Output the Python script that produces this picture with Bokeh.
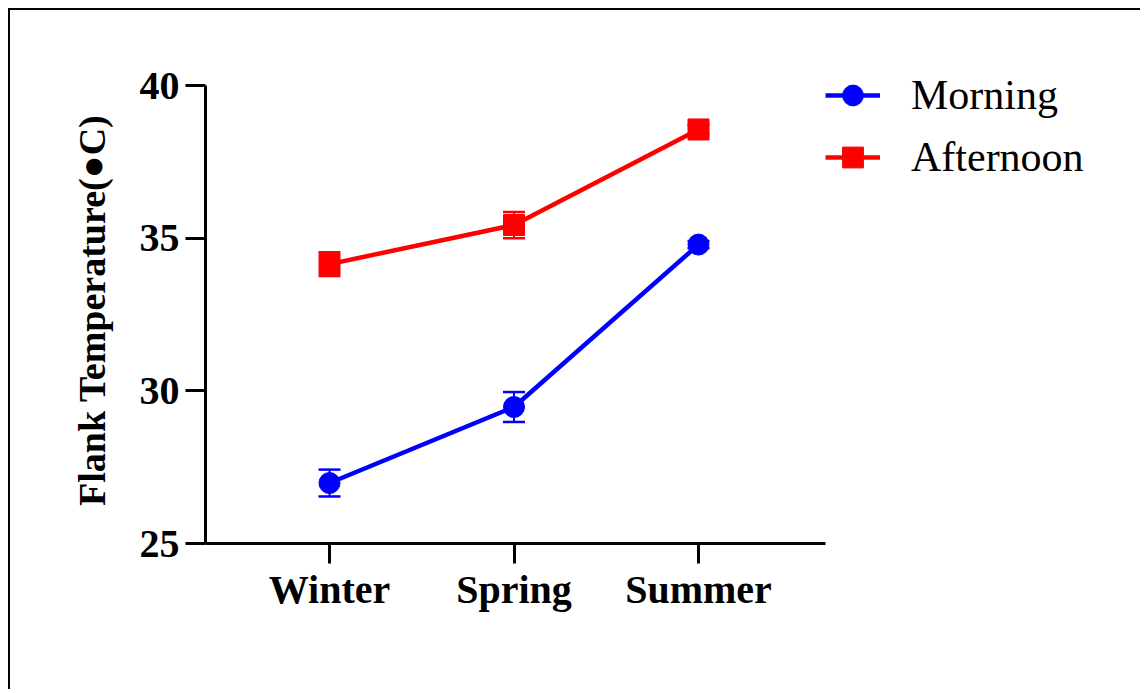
from bokeh.plotting import figure
from bokeh.models import (Range1d, FixedTicker, ColumnDataSource, Whisker, TeeHead,
                          Legend, LegendItem)
from bokeh.embed import file_html
from bokeh.resources import INLINE

seasons = ["Winter", "Spring", "Summer"]
x_pos = [0, 1, 2]
morning = [26.98, 29.47, 34.79]
morning_err = [0.44, 0.49, 0.12]
afternoon = [34.15, 35.43, 38.56]
afternoon_err = [0.39, 0.43, 0.15]
y_ticks = [25, 30, 35, 40]

# page-pixel layout (canvas starts at page (10, 10) after CSS margin + border)
OX, OY = 10, 10
W, H = 1144 - OX - 2, 693 - OY - 2
AX_L, AX_R, AX_T, AX_B = 205, 825, 85, 543      # axis extents on the page
X0_PX, X2_PX = 329, 698                           # page x of first/last category
ppx = (X2_PX - X0_PX) / 2.0
ppy = (AX_B - AX_T) / 15.0
x_start = (AX_L - X0_PX) / ppx
x_end = (OX + W - X0_PX) / ppx
y_end = 25 + (AX_B - OY) / ppy

p = figure(width=W, height=H, output_backend="svg", toolbar_location=None,
           x_range=Range1d(x_start, x_end), y_range=Range1d(25, y_end),
           min_border_left=AX_L - OX, min_border_right=0, min_border_top=0,
           min_border_bottom=H - (AX_B - OY))
p.styles = {"margin-left": "8px", "margin-top": "8px",
            "border-left": "2px solid black", "border-top": "2px solid black"}
p.outline_line_color = None
p.grid.visible = False
p.background_fill_color = "white"
p.border_fill_color = "white"

FONT = "Liberation Serif"
for ax in (p.xaxis[0], p.yaxis[0]):
    ax.axis_line_width = 3
    ax.axis_line_color = "black"
    ax.major_tick_line_width = 3
    ax.major_tick_line_color = "black"
    ax.major_tick_out = 20
    ax.major_tick_in = 0
    ax.minor_tick_line_color = None
    ax.major_label_text_font = FONT
    ax.major_label_text_font_style = "bold"
    ax.major_label_text_font_size = "40px"
    ax.major_label_text_color = "black"

p.xaxis.ticker = FixedTicker(ticks=x_pos)
p.xaxis.bounds = (x_start, (AX_R - X0_PX) / ppx)
p.xaxis.major_label_overrides = {i: s for i, s in zip(x_pos, seasons)}
p.xaxis.major_label_standoff = 3
p.yaxis.ticker = FixedTicker(ticks=y_ticks)
p.yaxis.bounds = (25, 40)
p.yaxis.major_label_standoff = 6
# trailing no-break spaces re-centre the label on the axis span rather than the frame
p.yaxis.axis_label = "Flank Temperature(\u25cfC)" + "\u00a0" * 7
p.yaxis.axis_label_text_font = FONT
p.yaxis.axis_label_text_font_style = "bold"
p.yaxis.axis_label_text_font_size = "38px"
p.yaxis.axis_label_text_color = "black"
p.yaxis.axis_label_standoff = 24

src_m = ColumnDataSource(dict(x=x_pos, y=morning,
                              lo=[v - e for v, e in zip(morning, morning_err)],
                              hi=[v + e for v, e in zip(morning, morning_err)]))
src_a = ColumnDataSource(dict(x=x_pos, y=afternoon,
                              lo=[v - e for v, e in zip(afternoon, afternoon_err)],
                              hi=[v + e for v, e in zip(afternoon, afternoon_err)]))

for src, col in ((src_m, "#0000ff"), (src_a, "#ff0000")):
    w = Whisker(base="x", upper="hi", lower="lo", source=src, line_color=col, line_width=2,
                upper_head=TeeHead(size=22, line_color=col, line_width=2.5),
                lower_head=TeeHead(size=22, line_color=col, line_width=2.5))
    w.level = "glyph"
    p.add_layout(w)

lm = p.line("x", "y", source=src_m, line_color="#0000ff", line_width=4.5)
sm = p.scatter("x", "y", source=src_m, marker="circle", size=21,
               fill_color="#0000ff", line_color="#0000ff")
la = p.line("x", "y", source=src_a, line_color="#ff0000", line_width=4.5)
sa = p.scatter("x", "y", source=src_a, marker="square", size=21,
               fill_color="#ff0000", line_color="#ff0000")

GH = 52
legend = Legend(items=[LegendItem(label="Morning", renderers=[lm, sm]),
                       LegendItem(label="Afternoon", renderers=[la, sa])],
                orientation="vertical")
legend.margin = 0
legend.padding = 0
legend.border_line_color = None
legend.background_fill_alpha = 0
legend.glyph_width = 55
legend.glyph_height = GH
legend.label_height = GH
legend.spacing = 62 - GH
legend.label_standoff = 31
legend.label_text_font = FONT
legend.label_text_font_size = "42px"
legend.label_text_color = "black"
leg_top = 95 - GH // 2
leg_h = 2 * GH + (62 - GH)
legend.location = (AX_R - AX_L, AX_B - (leg_top + leg_h))
p.add_layout(legend)

open("out.html", "w").write(file_html(p, INLINE))
